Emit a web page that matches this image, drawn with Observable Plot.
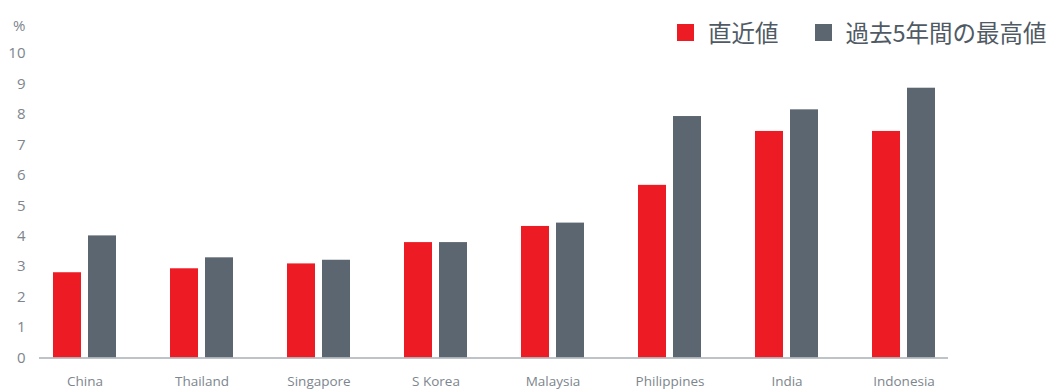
<!DOCTYPE html>
<html><head><meta charset="utf-8">
<script src="https://cdn.jsdelivr.net/npm/d3@7"></script>
<script src="https://cdn.jsdelivr.net/npm/@observablehq/plot@0.6"></script>
<style>
body{margin:0;background:#fff;}
#wrap{position:relative;width:1049px;height:389px;overflow:hidden;}
#legend{position:absolute;left:677px;top:15px;width:max-content;white-space:nowrap;}
#legend .lg-swatches{margin:0 !important;min-height:33px;flex-wrap:nowrap !important;width:max-content;}
#legend .lg-swatch{white-space:nowrap;}
#legend .lg-swatch > svg{margin-right:14px !important;}
#legend .lg-swatches-wrap .lg-swatch{margin-right:36px !important;}
</style></head><body>
<div id="wrap"><div id="chart"></div><div id="legend"></div></div>
<script>
const countries = ["China", "Thailand", "Singapore", "S Korea", "Malaysia", "Philippines", "India", "Indonesia"];
const latest = [2.8, 2.93, 3.09, 3.79, 4.32, 5.67, 7.44, 7.44];
const high5y = [4.01, 3.29, 3.21, 3.79, 4.43, 7.93, 8.15, 8.86];
const seriesNames = ["直近値", "過去5年間の最高値"];
const seriesColors = ["#ED1C24", "#5B6670"];
const yTicks = [0, 1, 2, 3, 4, 5, 6, 7, 8, 9, 10];
const yUnit = "%";

const rows = countries.map((c, i) => ({country: c, latest: latest[i], high: high5y[i]}));

const chart = Plot.plot({
  width: 1049,
  height: 389,
  marginLeft: 39,
  marginRight: 101,
  marginTop: 53,
  marginBottom: 31.5,
  style: {fontFamily: "'Open Sans', sans-serif", color: "#7d858d", background: "#fff", overflow: "visible"},
  x: {domain: countries, paddingInner: 0.465, paddingOuter: 0.1125, label: null},
  y: {domain: [0, 10], label: null},
  color: {domain: seriesNames, range: seriesColors},
  marks: [
    Plot.barY(rows, {x: "country", y: "latest", fill: () => seriesNames[0], insetRight: 35}),
    Plot.barY(rows, {x: "country", y: "high", fill: () => seriesNames[1], insetLeft: 35}),
    Plot.ruleY([0], {stroke: "#a9afb4", strokeWidth: 1.4}),
    Plot.axisY({ticks: yTicks, tickSize: 0, tickPadding: 14, fontSize: 15, label: null, fill: "#7d858d"}),
    Plot.axisX({tickSize: 0, tickPadding: 18, fontSize: 13.5, label: null, fill: "#7d858d"}),
    Plot.text([yUnit], {frameAnchor: "top-left", dx: -14, dy: -33, textAnchor: "end", fontSize: 15, fill: "#7d858d"})
  ]
});
document.getElementById("chart").appendChild(chart);

const legend = Plot.legend({
  color: {domain: seriesNames, range: seriesColors},
  legend: "swatches",
  swatchSize: 17,
  className: "lg",
  style: {fontSize: "23.5px", fontFamily: "'Noto Sans CJK JP', sans-serif", color: "#4f5a64"}
});
document.getElementById("legend").appendChild(legend);
</script>
</body></html>
